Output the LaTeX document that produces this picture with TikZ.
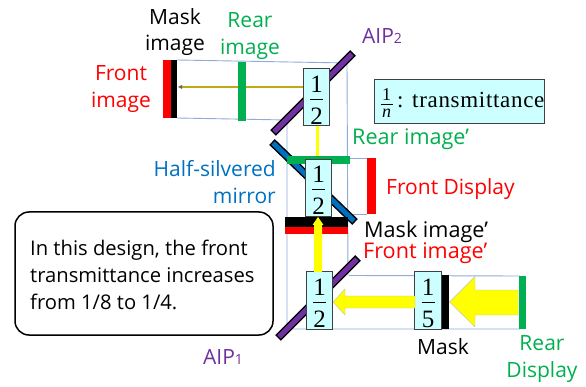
\documentclass[tikz,border=0pt]{standalone}
\usepackage{fontspec}
\setmainfont{Open Sans}
\newfontfamily\serifx{Liberation Serif}
\newfontfamily\serifsp[LetterSpace=3]{Liberation Serif}
\definecolor{cgreen}{RGB}{0,176,80}
\definecolor{cblue}{RGB}{0,112,192}
\definecolor{cpurple}{RGB}{112,48,160}
\definecolor{cline}{RGB}{143,170,220}
\definecolor{cyanbox}{RGB}{204,255,255}
\definecolor{cyel}{RGB}{255,255,0}
\definecolor{colive}{RGB}{190,170,20}
\newcommand{\fr}[2]{\serifx\fontsize{25}{25}\selectfont\vbox{\kern6pt\hbox to 13pt{\hss #1\hss}\kern6.5pt\hrule height 1pt\kern8pt\hbox to 13pt{\hss #2\hss}}}
\newcommand{\mirrorline}[3]{%
  \draw[black,line width=8pt] (#1) -- (#2);
  \draw[#3,line width=5pt,shorten >=1.5pt,shorten <=1.5pt] (#1) -- (#2);}
\tikzset{
 x=1pt,y=-1pt,
 lab/.style={inner sep=0pt,font=\fontsize{21}{26.5}\selectfont,align=center},
 labw/.style={inner sep=0pt,font=\fontsize{21.6}{24}\selectfont,anchor=west},
 frac/.style={draw=black!75,line width=.8pt,fill=cyanbox,inner sep=0pt,minimum width=26.5pt,minimum height=57.5pt},
 guide/.style={draw=cline,line width=.9pt},
 bigarrow/.style={fill=cyel,draw=black!25,line width=.4pt},
}
\begin{document}
\begin{tikzpicture}
\useasboundingbox (0,0) rectangle (586,387);
% guides
\draw[guide] (177,60) -- (347,63) -- (348,275);
\draw[guide] (177,118) -- (287,120) -- (287,329) -- (520,329);
\draw[guide] (349,275.5) -- (520,276);
\draw[guide] (348,158) -- (367,158);
\draw[guide] (348,214) -- (367,214);
% mirrors
\coordinate (aiptwoA) at (273,133); \coordinate (aiptwoB) at (353,53);
\coordinate (aiponeA) at (278,338); \coordinate (aiponeB) at (358,258);
\coordinate (halfA) at (272,142); \coordinate (halfB) at (355,222);
\mirrorline{aiptwoA}{aiptwoB}{cpurple}
\mirrorline{aiponeA}{aiponeB}{cpurple}
\mirrorline{halfA}{halfB}{cblue}
% displays and bars
\fill[red] (163,60) rectangle (172,118);
\fill[black] (171,60) rectangle (177,118);
\fill[red] (367,158) rectangle (376,214);
\fill[black] (285,217) rectangle (348,227);
\fill[red] (285,227) rectangle (348,234);
\fill[black] (441,275) rectangle (449,329);
\fill[cgreen] (519,276) rectangle (526,329);
% fractions
\node[frac] (top) at (316.5,97) {\fr{1}{2}};
\node[frac] (low) at (319.5,300.5) {\fr{1}{2}};
\node[frac] (five) at (428,300.5) {\fr{1}{5}};
% connectors
\coordinate (thinend) at (180,87);
\draw[black!55,line width=2.4pt] (top.west |- 0,87) -- (thinend);
\draw[colive,line width=1.2pt] (top.west |- 0,87) -- (thinend);
\fill[black!60] (178,87) -- (182,85) -- (182,89) -- cycle;
\fill[cgreen] (238,62) rectangle (246,121);
\draw[cyel,line width=3.5pt] (top.south -| 317.5,0) -- (317.5,158);
\fill[cgreen] (287,156) rectangle (350,164);
\node[frac,minimum height=57pt] (mid) at (318.5,187.5) {\fr{1}{2}};
% yellow arrows
\fill[cyel] (314,272) -- (314,225) -- (312.5,225) -- (318,217) -- (323.5,225) -- (322,225) -- (322,272) -- cycle;
\draw[bigarrow] (415,296) -- (345,296) -- (345,289) -- (333,302) -- (345,315) -- (345,308) -- (415,308) -- cycle;
\draw[bigarrow] (518,290) -- (475,290) -- (475,276.5) -- (449.5,302) -- (475,327) -- (475,315) -- (518,315) -- cycle;
% legend
\node[draw=black!75,line width=.8pt,fill=cyanbox,inner sep=0pt,minimum width=170pt,minimum height=44pt] (legend) at (459,101) {};
\node[inner sep=0pt] (legendfrac) at (386.5,103) {\serifx\fontsize{18}{18}\selectfont\vbox{\hbox to 12pt{\hss 1\hss}\kern3.5pt\hrule height .8pt\kern5pt\hbox to 12pt{\hss\itshape n\hss}}};
\node[inner sep=0pt,anchor=base west] (legendtext) at (397,108) {\serifsp\fontsize{23}{23}\selectfont : transmittance};
% text box
\node[draw=black,line width=1.5pt,rounded corners=14pt,fill=white,minimum width=258pt,minimum height=123pt,inner sep=0pt] (note) at (144,273.5) {};
\node[lab,anchor=west,align=left,font=\fontsize{20.2}{27}\selectfont] (notetext) at (30,275) {In this design, the front\\transmittance increases\\from 1/8 to 1/4.};
% labels
\node[lab,text=black] (l1) at (175,32) {Mask\\image};
\node[lab,text=cgreen] (l2) at (250,36) {Rear\\image};
\node[lab,text=red] (l3) at (121,89) {Front\\image};
\node[lab,text=cpurple,anchor=west] (l4) at (362,36) {AIP{\fontsize{14}{14}\selectfont 2}};
\node[labw,text=cgreen] (l5) at (352,139) {Rear image’};
\node[lab,text=cblue,align=right,anchor=east] (l6) at (276,182) {Half-silvered\\mirror};
\node[lab,text=red,anchor=west] (l7) at (386,189) {Front Display};
\node[labw,text=black] (l8) at (364,231.5) {Mask image’};
\node[labw,text=red] (l9) at (363,253) {Front image’};
\node[lab,text=cpurple,anchor=west] (l10) at (203,357) {AIP{\fontsize{14}{14}\selectfont 1}};
\node[lab,text=black] (l11) at (443,347) {Mask};
\node[lab,text=cgreen] (l12) at (542,359) {Rear\\Display};
\end{tikzpicture}
\end{document}
